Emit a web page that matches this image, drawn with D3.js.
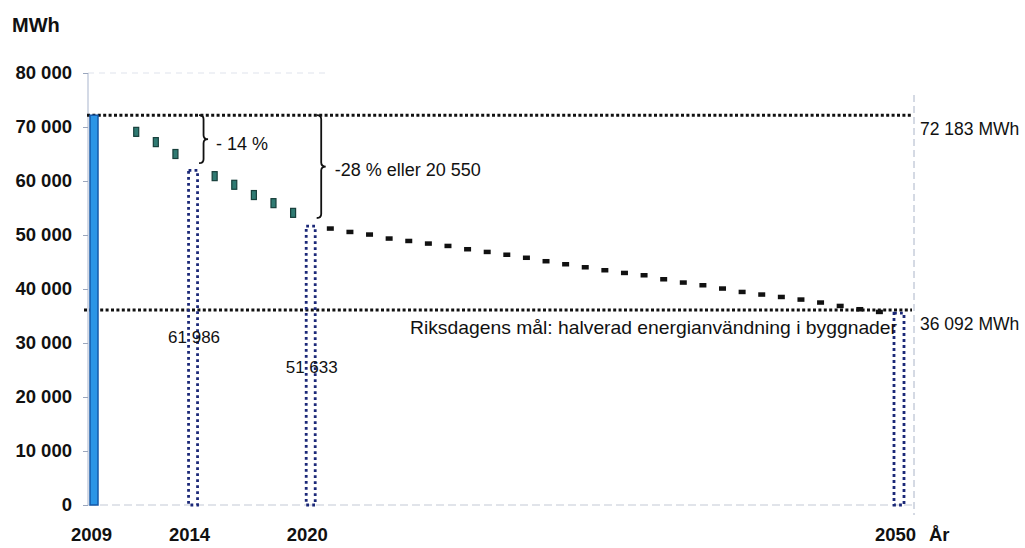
<!DOCTYPE html>
<html>
<head>
<meta charset="utf-8">
<script src="https://cdn.jsdelivr.net/npm/d3@7"></script>
<style>
  body { margin: 0; background: #fff; }
  svg { display: block; font-family: "Liberation Sans", Arial, sans-serif; }
</style>
</head>
<body>
<svg id="chart" width="1025" height="548"></svg>
<script>
// ---- data ----
const actualYears = [2009];
const actualValues = [72183];

const markerYears = [2011, 2012, 2013, 2015, 2016, 2017, 2018, 2019];
const markerValues = [69100, 67200, 65000, 60900, 59300, 57400, 55900, 54100];

const targetYears = [2014, 2020, 2050];
const targetValues = [61986, 51633, 36092];
const targetLabels = ["61 986", "51 633"];

const projYears = [2021, 2022, 2023, 2024, 2025, 2026, 2027, 2028, 2029, 2030,
                   2031, 2032, 2033, 2034, 2035, 2036, 2037, 2038, 2039, 2040,
                   2041, 2042, 2043, 2044, 2045, 2046, 2047, 2048, 2049];
const projValues = [51240, 50610, 50130, 49390, 48940, 48460, 48020, 47410, 46910, 46390,
                    45830, 45190, 44630, 44070, 43520, 43020, 42590, 41850, 41240, 40740,
                    40130, 39500, 39020, 38570, 38090, 37540, 36910, 36300, 35800];

const refValues = [72183, 36092];
const refLabels = ["72 183 MWh", "36 092 MWh"];

const yTicks = [0, 10000, 20000, 30000, 40000, 50000, 60000, 70000, 80000];
const yTickLabels = ["0", "10 000", "20 000", "30 000", "40 000", "50 000", "60 000", "70 000", "80 000"];
const xTickYears = [2009, 2014, 2020, 2050];

const braceRanges = [[72183, 63300], [72183, 53150]];
const braceYears = [2014, 2020];
const braceTexts = ["- 14 %", "-28 % eller 20 550"];
const goalText = "Riksdagens mål: halverad energianvändning i byggnader";

// ---- scales ----
const svg = d3.select("#chart");
const x = d3.scaleLinear().domain([2009, 2050]).range([95, 899]);
const y = d3.scaleLinear().domain([0, 80000]).range([505, 73]);
const axisX = 88;

// faint frame lines (scan style)
svg.append("line").attr("x1", axisX).attr("x2", 330).attr("y1", y(80000)).attr("y2", y(80000))
  .attr("stroke", "#dfe3ec").attr("stroke-width", 1).attr("stroke-dasharray", "6,5");
svg.append("line").attr("x1", axisX).attr("x2", axisX).attr("y1", y(80000)).attr("y2", y(0))
  .attr("stroke", "#b8c2d6").attr("stroke-width", 1.2);
svg.append("line").attr("x1", 914).attr("x2", 914).attr("y1", 95).attr("y2", 515)
  .attr("stroke", "#aab4c8").attr("stroke-width", 1).attr("stroke-dasharray", "7,4");
svg.append("line").attr("x1", axisX).attr("x2", 912).attr("y1", y(0)).attr("y2", y(0))
  .attr("stroke", "#c3c9d6").attr("stroke-width", 1.2).attr("stroke-dasharray", "8,4");

// y axis ticks and labels
const yAxis = d3.axisLeft(y).tickValues(yTicks).tickSize(5)
  .tickFormat((d, i) => yTickLabels[i]);
const gy = svg.append("g").attr("transform", `translate(${axisX},0)`).call(yAxis);
gy.select(".domain").remove();
gy.selectAll(".tick line").attr("stroke", "#9aa6bd");
gy.selectAll(".tick text").attr("x", -16).attr("font-size", 18.5).attr("font-weight", "bold")
  .attr("fill", "#111").attr("font-family", "'Liberation Sans', Arial, sans-serif");

// x axis labels
const xAxis = d3.axisBottom(x).tickValues(xTickYears).tickSize(0).tickFormat(d3.format("d"));
const gx = svg.append("g").attr("transform", `translate(-4,${y(0) + 20})`).call(xAxis);
gx.select(".domain").remove();
gx.selectAll(".tick text").attr("font-size", 18.5).attr("font-weight", "bold").attr("fill", "#111")
  .attr("font-family", "'Liberation Sans', Arial, sans-serif");

svg.append("text").attr("x", 929).attr("y", 541).attr("font-size", 18.5).attr("font-weight", "bold")
  .attr("fill", "#111").text("År");
svg.append("text").attr("x", 12).attr("y", 32).attr("font-size", 20).attr("font-weight", "bold")
  .attr("fill", "#111").text("MWh");

// reference dotted lines
svg.selectAll("line.ref").data(refValues).enter().append("line")
  .attr("x1", (d, i) => i === 0 ? 87 : 84).attr("x2", 912)
  .attr("y1", d => y(d)).attr("y2", d => y(d))
  .attr("stroke", "#111").attr("stroke-width", 3).attr("stroke-dasharray", "3,2.4");
svg.selectAll("text.ref").data(refLabels).enter().append("text")
  .attr("x", 920).attr("y", (d, i) => y(refValues[i]) + 20)
  .attr("font-size", 17.5).attr("fill", "#111").text(d => d);

// actual bar (2009)
const bw = 9;
svg.selectAll("rect.actual").data(actualYears).enter().append("rect")
  .attr("x", d => x(d) - bw / 2 - 0.5).attr("width", bw - 1)
  .attr("y", (d, i) => y(actualValues[i])).attr("height", (d, i) => y(0) - y(actualValues[i]))
  .attr("fill", "#2b95e6").attr("stroke", "#1558a8").attr("stroke-width", 1.5);

// target dotted bars
svg.selectAll("rect.target").data(targetYears).enter().append("rect")
  .attr("x", (d, i) => x(d) - (i === 2 ? 5 : 4.5)).attr("width", (d, i) => i === 2 ? 10 : 9)
  .attr("y", (d, i) => y(targetValues[i]) + (i === 2 ? 3 : 0))
  .attr("height", (d, i) => y(0) - y(targetValues[i]) - (i === 2 ? 3 : 0))
  .attr("fill", "none").attr("stroke", "#1b2878").attr("stroke-width", 2.8)
  .attr("stroke-dasharray", "2.8,3.2");

// markers
svg.selectAll("rect.marker").data(markerYears).enter().append("rect")
  .attr("x", d => x(d) - 0.5).attr("width", 5)
  .attr("y", (d, i) => y(markerValues[i]) - 4.5).attr("height", 9)
  .attr("fill", "#2f7a72").attr("stroke", "#173f3b").attr("stroke-width", 1.2);

// projection dashes
svg.selectAll("rect.proj").data(projYears).enter().append("rect")
  .attr("x", d => x(d) - 3.5).attr("width", 7)
  .attr("y", (d, i) => y(projValues[i]) - 2).attr("height", 4.5)
  .attr("fill", "#111");

// braces
function bracePath(x0, y1, y2, w) {
  const ym = (y1 + y2) / 2, r = 4, xs = x0 + w * 0.5;
  return `M${x0},${y1} Q${xs},${y1} ${xs},${y1 + r} L${xs},${ym - r} Q${xs},${ym} ${x0 + w},${ym}` +
         ` Q${xs},${ym} ${xs},${ym + r} L${xs},${y2 - r} Q${xs},${y2} ${x0},${y2}`;
}
svg.selectAll("path.brace").data(braceRanges).enter().append("path")
  .attr("d", (d, i) => bracePath(x(braceYears[i]) + 6, y(d[0]), y(d[1]), 9))
  .attr("fill", "none").attr("stroke", "#111").attr("stroke-width", 1.8);
svg.selectAll("text.brace").data(braceTexts).enter().append("text")
  .attr("x", (d, i) => x(braceYears[i]) + (i === 0 ? 23 : 24))
  .attr("y", (d, i) => (y(braceRanges[i][0]) + y(braceRanges[i][1])) / 2 + (i === 0 ? 11 : 9))
  .attr("font-size", 18).attr("fill", "#111").text(d => d);

// target value labels
svg.selectAll("text.tval").data(targetLabels).enter().append("text")
  .attr("x", (d, i) => x(targetYears[i]) + 1).attr("y", (d, i) => i === 0 ? 343 : 373)
  .attr("text-anchor", "middle").attr("font-size", 17).attr("fill", "#111").text(d => d);

// goal text
svg.append("text").attr("x", 410).attr("y", 334).attr("font-size", 18.5).attr("fill", "#111")
  .attr("textLength", 487).attr("lengthAdjust", "spacingAndGlyphs").text(goalText);
</script>
</body>
</html>
